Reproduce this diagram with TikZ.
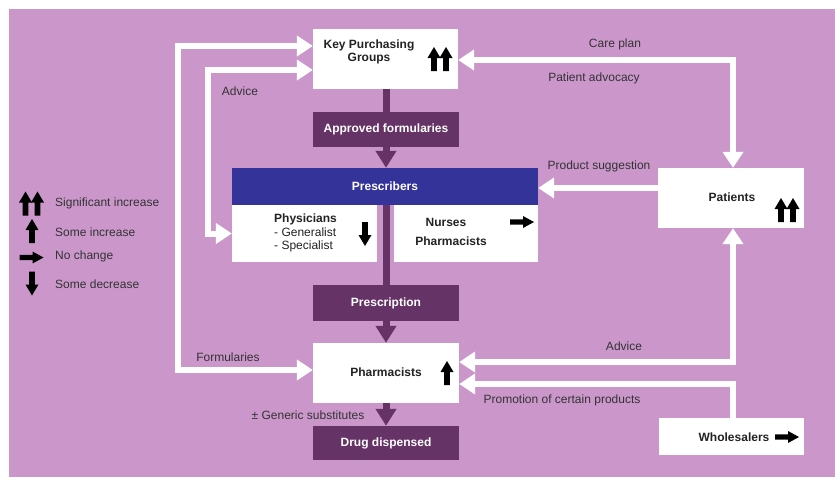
\documentclass[tikz,border=0pt]{standalone}
\usepackage{fontspec}
\setmainfont{Liberation Sans}
\usetikzlibrary{arrows.meta,calc}
\definecolor{bgp}{HTML}{CB97CB}
\definecolor{dkp}{HTML}{663366}
\definecolor{blu}{HTML}{333399}
\definecolor{txt}{HTML}{333333}
\definecolor{btxt}{HTML}{222222}
\newcommand\myfs{\fontsize{12}{13.5}\selectfont}
\begin{document}
\begin{tikzpicture}[x=1pt,y=-1pt,
  every node/.style={font=\myfs},
  wbox/.style={fill=white, inner sep=0pt},
  dbox/.style={fill=dkp, inner sep=0pt, text=white, font=\myfs\bfseries},
  bbox/.style={fill=blu, inner sep=0pt, text=white, font=\myfs\bfseries},
  lbl/.style={text=txt, inner sep=0pt},
  blbl/.style={text=btxt, inner sep=0pt, font=\myfs\bfseries},
  wline/.style={draw=white, line width=6pt, line join=miter},
  dline/.style={draw=dkp, line width=7pt},
  wtip/.tip={Triangle[width=20pt,length=16pt]},
  dtip/.tip={Triangle[width=20pt,length=17pt]},
  oneup/.pic={\fill[black] (-2.8,12) -- (-2.8,-1) -- (-6.5,-1) -- (0,-12) -- (6.5,-1) -- (2.8,-1) -- (2.8,12) -- cycle;},
  onedown/.pic={\fill[black] (-2.8,-12) -- (-2.8,1) -- (-6.5,1) -- (0,12) -- (6.5,1) -- (2.8,1) -- (2.8,-12) -- cycle;},
  oneright/.pic={\fill[black] (-12,-2.6) -- (1,-2.6) -- (1,-6) -- (12,0) -- (1,6) -- (1,2.6) -- (-12,2.6) -- cycle;},
  twoup/.pic={\pic at (-6,0) {oneup}; \pic at (6,0) {oneup};}
]
\useasboundingbox (0,0) rectangle (835,477);
\fill[bgp] (9,9) rectangle (835,477);

% boxes
\node[wbox, minimum width=145pt, minimum height=60pt] (kpg) at (385.5,59) {};
\node[dbox, minimum width=146pt, minimum height=35pt] (af) at (386,129.5) {Approved formularies};
\node[bbox, minimum width=306pt, minimum height=37pt] (presc) at (385,186.5) {Prescribers};
\node[wbox, minimum width=145pt, minimum height=57pt] (phys) at (304.5,233.5) {};
\node[wbox, minimum width=144pt, minimum height=57pt] (nurse) at (466,233.5) {};
\node[dbox, minimum width=146pt, minimum height=36pt] (pres) at (386,303) {Prescription};
\node[wbox, minimum width=146pt, minimum height=60pt] (pharm) at (386,373) {};
\node[dbox, minimum width=146pt, minimum height=34pt] (drug) at (386,443) {Drug dispensed};
\node[wbox, minimum width=146pt, minimum height=60pt] (pat) at (731,198) {};
\node[wbox, minimum width=145pt, minimum height=37pt] (whole) at (731.5,436.5) {};

% dark connectors
\draw[dline] (kpg.south -| af.north) -- (af.north);
\draw[dline, -{dtip}] (af.south) -- (af.south |- presc.north);
\draw[dline] (presc.south -| pres.north) -- (pres.north);
\draw[dline, -{dtip}] (pres.south) -- (pharm.north);
\draw[dline, -{dtip}] (pharm.south) -- (drug.north);

% white connectors
\coordinate (c1) at (178,200);
\coordinate (c2) at (208,150);
\draw[wline, {wtip}-{wtip}] ([yshift=13pt]kpg.west) -| (c1) |- ([yshift=3pt]pharm.west);
\draw[wline, {wtip}-{wtip}] ([yshift=-11pt]kpg.west) -| (c2) |- (phys.west);
\draw[wline, {wtip}-{wtip}] ([yshift=-1pt]kpg.east) -| ([xshift=2pt]pat.north);
\draw[wline, -{wtip}] ([yshift=10pt]pat.west) -- ([yshift=10pt]pat.west -| presc.east);
\draw[wline, {wtip}-{wtip}] ([yshift=11pt]pharm.east) -| ([xshift=2pt]pat.south);
\draw[wline, -{wtip}] ([xshift=1.5pt]whole.north) |- ([yshift=-11pt]pharm.east);

% texts in white boxes
\node[blbl, align=center] (kpgt) at (369,52) {Key Purchasing\\Groups};
\node[blbl] (physt0) at (274,219) [anchor=west] {Physicians};
\node[lbl, text=btxt] (physt1) at (274,232.5) [anchor=west] {- Generalist};
\node[lbl, text=btxt] (physt2) at (274,246.5) [anchor=west] {- Specialist};
\node[blbl] (nurt) at (446,222) {Nurses};
\node[blbl] (npht) at (451,241) {Pharmacists};
\node[blbl] (pht) at (386,372) {Pharmacists};
\node[blbl] (patt) at (732,197) {Patients};
\node[blbl] (whot) at (734,437) {Wholesalers};

% connector labels
\node[lbl] (l1) at (240,91) {Advice};
\node[lbl] (l2) at (615,44) {Care plan};
\node[lbl] (l3) at (594,78) {Patient advocacy};
\node[lbl] (l4) at (599,166) {Product suggestion};
\node[lbl] (l5) at (228,357) {Formularies};
\node[lbl] (l6) at (308,415) {± Generic substitutes};
\node[lbl] (l7) at (624,346) {Advice};
\node[lbl] (l8) at (562,400) {Promotion of certain products};

% change indicators
\pic at (440,59) {twoup};
\pic at (787,210) {twoup};
\pic at (365,234) {onedown};
\pic at (522,222) {oneright};
\pic at (447,373) {oneup};
\pic at (787,437) {oneright};

% legend
\pic at (31.5,203.5) {twoup};
\pic at (32,231) {oneup};
\pic at (31.5,257.5) {oneright};
\pic at (32,283.5) {onedown};
\node[lbl, anchor=west] (g1) at (55,203) {Significant increase};
\node[lbl, anchor=west] (g2) at (55,232) {Some increase};
\node[lbl, anchor=west] (g3) at (55,256) {No change};
\node[lbl, anchor=west] (g4) at (55,284) {Some decrease};
\end{tikzpicture}
\end{document}
